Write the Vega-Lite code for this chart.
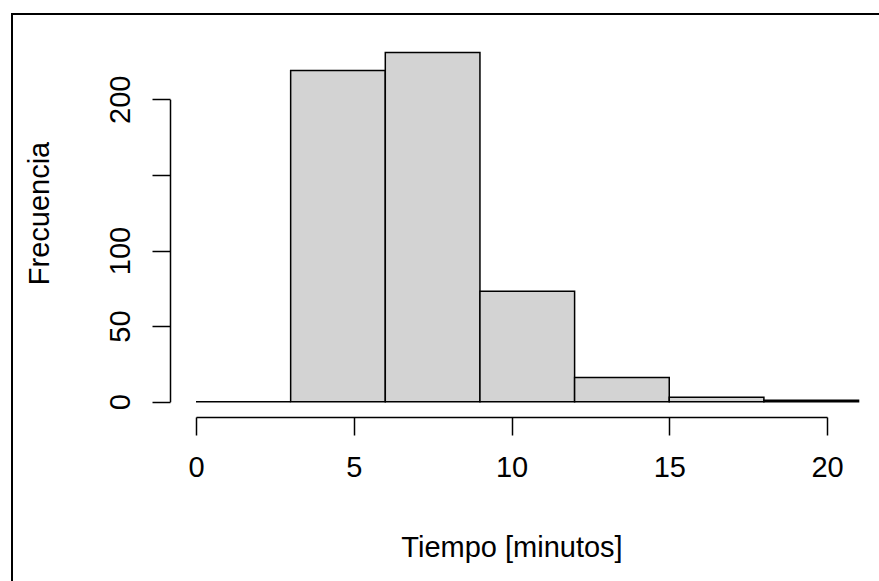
{
  "$schema": "https://vega.github.io/schema/vega-lite/v6.json",
  "autosize": {"type": "none"},
  "padding": {"left": 12, "top": 14, "right": 0, "bottom": 0},
  "width": 869,
  "height": 569,
  "background": "white",
  "config": {
    "view": {"stroke": "black", "strokeWidth": 2},
    "axis": {
      "grid": false,
      "domainColor": "black",
      "domainWidth": 1.5,
      "tickColor": "black",
      "tickWidth": 1.5,
      "tickSize": 18,
      "labelColor": "black",
      "titleColor": "black",
      "labelFont": "Liberation Sans",
      "titleFont": "Liberation Sans",
      "labelFontSize": 29,
      "titleFontSize": 29,
      "titleFontWeight": "normal",
      "labelFlush": false,
      "labelOverlap": false,
      "labelBound": false
    }
  },
  "data": {
    "values": [
      {"start": 0, "end": 3, "count": 0},
      {"start": 3, "end": 6, "count": 219},
      {"start": 6, "end": 9, "count": 231},
      {"start": 9, "end": 12, "count": 73},
      {"start": 12, "end": 15, "count": 16},
      {"start": 15, "end": 18, "count": 3},
      {"start": 18, "end": 21, "count": 1}
    ]
  },
  "mark": {"type": "rect", "fill": "#D3D3D3", "stroke": "black", "strokeWidth": 1.5},
  "encoding": {
    "x": {
      "field": "start",
      "type": "quantitative",
      "scale": {"domain": [0, 20], "range": [184, 815], "nice": false, "zero": false},
      "axis": {
        "title": "Tiempo [minutos]",
        "values": [0, 5, 10, 15, 20],
        "offset": -166,
        "labelPadding": 18,
        "titlePadding": 51
      }
    },
    "x2": {"field": "end"},
    "y": {
      "field": "count",
      "type": "quantitative",
      "scale": {"domain": [0, 200], "range": [387.7, 85.3], "nice": false, "zero": false},
      "axis": {
        "title": "Frecuencia",
        "values": [0, 50, 100, 150, 200],
        "labelExpr": "datum.value == 150 ? '' : datum.label",
        "labelAngle": -90,
        "labelAlign": "center",
        "labelBaseline": "alphabetic",
        "offset": -158,
        "labelPadding": 23,
        "titlePadding": 52,
        "titleY": 199
      }
    },
    "y2": {"datum": 0}
  }
}
